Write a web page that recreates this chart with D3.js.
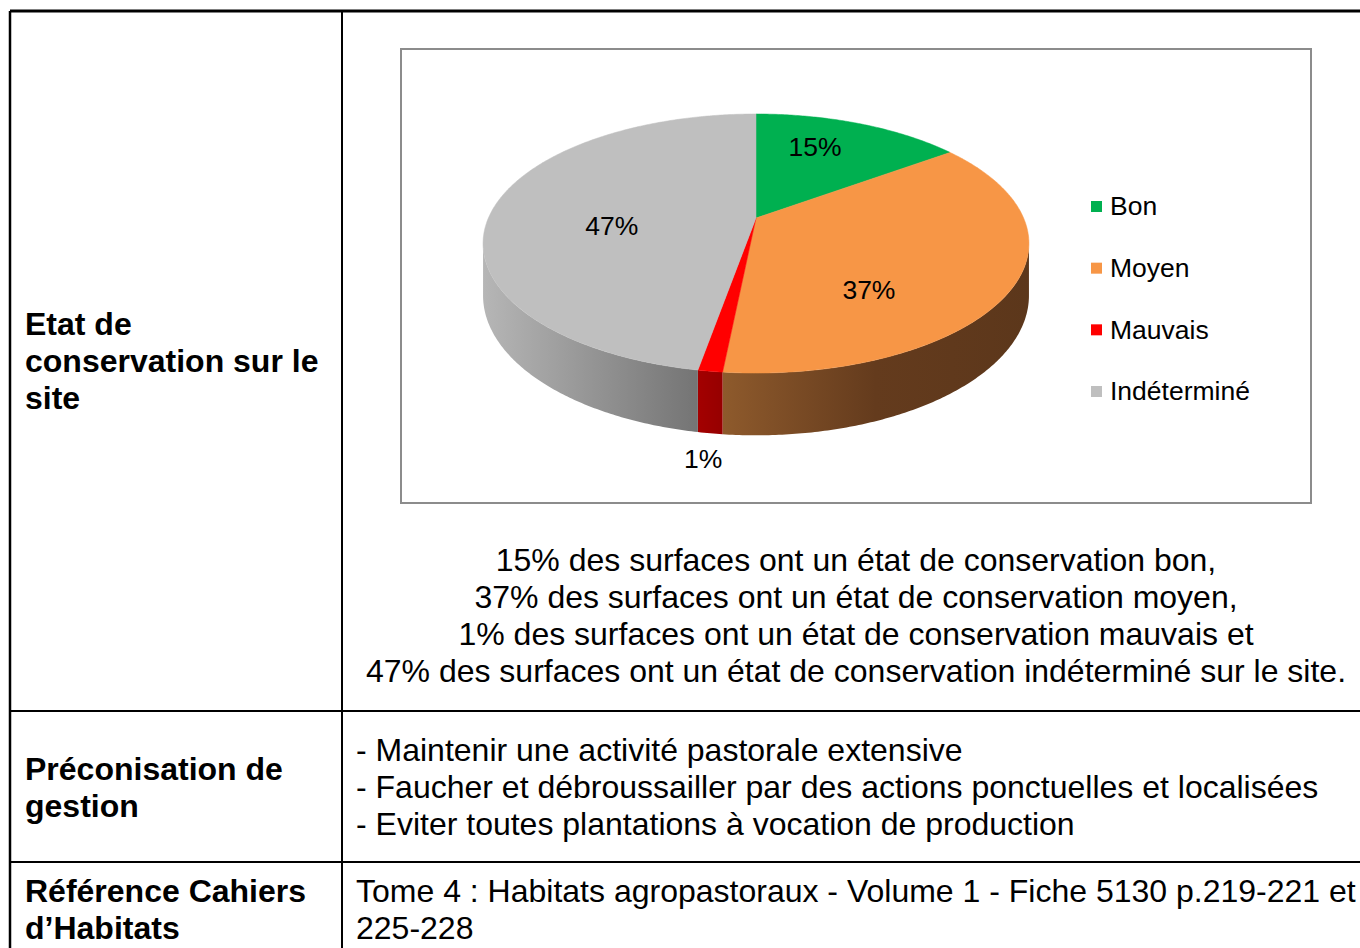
<!DOCTYPE html>
<html>
<head>
<meta charset="utf-8">
<script src="https://cdn.jsdelivr.net/npm/d3@7"></script>
<style>
  body { margin: 0; background: #fff; }
  svg { display: block; }
  text { font-family: "Liberation Sans", Arial, sans-serif; }
</style>
</head>
<body>
<svg id="chart" width="1360" height="948"></svg>
<script>
// chart data
const categories = ["Bon", "Moyen", "Mauvais", "Indéterminé"]
const shares = [15, 36.6, 1.2, 47.2]
const topColors = ["#00b050", "#f79646", "#ff0000", "#bfbfbf"]

// table text
const rowLabels = [
  ["Etat de", "conservation sur le", "site"],
  ["Préconisation de", "gestion"],
  ["Référence Cahiers", "d\u2019Habitats"]
]
const summaryLines = [
  "15% des surfaces ont un état de conservation bon,",
  "37% des surfaces ont un état de conservation moyen,",
  "1% des surfaces ont un état de conservation mauvais et",
  "47% des surfaces ont un état de conservation indéterminé sur le site."
]
const gestionLines = [
  "- Maintenir une activité pastorale extensive",
  "- Faucher et débroussailler par des actions ponctuelles et localisées",
  "- Eviter toutes plantations à vocation de production"
]
const refLines = [
  "Tome 4 : Habitats agropastoraux - Volume 1 - Fiche 5130 p.219-221 et",
  "225-228"
]

const svg = d3.select("#chart")

// ---- table grid ----
const colX = 342, leftX = 10, topY = 11
const rowY = [topY, 711, 862, 960]
const grid = svg.append("g").attr("stroke", "#000")
grid.append("line").attr("x1", leftX).attr("x2", 1370).attr("y1", topY).attr("y2", topY).attr("stroke-width", 3)
grid.append("line").attr("x1", leftX).attr("x2", leftX).attr("y1", topY).attr("y2", 960).attr("stroke-width", 2.5)
grid.append("line").attr("x1", colX).attr("x2", colX).attr("y1", topY).attr("y2", 960).attr("stroke-width", 2)
rowY.slice(1, 3).forEach(y => {
  grid.append("line").attr("x1", leftX).attr("x2", 1370).attr("y1", y).attr("y2", y).attr("stroke-width", 2)
})

// left column labels
const labelCenters = [361, 787.5, 909.5]
rowLabels.forEach((lines, i) => {
  const n = lines.length
  lines.forEach((t, j) => {
    svg.append("text")
      .attr("x", 25)
      .attr("y", labelCenters[i] + (j - (n - 1) / 2) * 37)
      .attr("dy", "0.35em")
      .attr("font-size", 32)
      .attr("font-weight", "bold")
      .attr("fill", "#000")
      .text(t)
  })
})

// summary text under the chart
summaryLines.forEach((t, j) => {
  svg.append("text")
    .attr("x", 856).attr("y", 560 + j * 37).attr("dy", "0.35em")
    .attr("text-anchor", "middle").attr("font-size", 32).text(t)
})
gestionLines.forEach((t, j) => {
  svg.append("text")
    .attr("x", 356).attr("y", 750 + j * 37).attr("dy", "0.35em")
    .attr("font-size", 32).text(t)
})
refLines.forEach((t, j) => {
  svg.append("text")
    .attr("x", 356).attr("y", 891 + j * 37).attr("dy", "0.35em")
    .attr("font-size", 32).text(t)
})

// ---- chart frame ----
svg.append("rect")
  .attr("x", 401).attr("y", 49).attr("width", 910).attr("height", 454)
  .attr("fill", "#fff").attr("stroke", "#8c8c8c").attr("stroke-width", 2)

// ---- 3D pie ----
const cx = 756, cy = 218
const rx = 267.6, ry = 124.5, persp = 0.197, depth = 50

// project a point on the disk (angle a clockwise from back, radius r) to screen
function project(a, r, down) {
  const u = Math.sin(a) * r, v = -Math.cos(a) * r
  const s = 1 / (1 - persp * v)
  return [cx + rx * u * s, cy + ry * v * s + (down ? depth * s : 0)]
}

const pie = d3.pie().sort(null).value(d => d)
const arcs = pie(shares)
const step = 0.01

function arcPoints(a0, a1, down) {
  const pts = []
  const n = Math.max(2, Math.ceil((a1 - a0) / step))
  for (let i = 0; i <= n; i++) pts.push(project(a0 + (a1 - a0) * i / n, 1, down))
  return pts
}
const line = d3.line()

// walls (only the front part is visible)
const defs = svg.append("defs")
const wallStops = [
  [],
  [[0, "#8e5a2c"], [0.5, "#643b1d"], [1, "#5c371b"]],
  [[0, "#a30000"], [1, "#960000"]],
  [[0, "#b6b6b6"], [1, "#747474"]]
]
const visA0 = Math.acos(-persp), visA1 = 2 * Math.PI - Math.acos(-persp)

arcs.forEach((d, i) => {
  const a0 = Math.max(d.startAngle, visA0), a1 = Math.min(d.endAngle, visA1)
  if (a1 <= a0) return
  const top = arcPoints(a0, a1, false)
  const bot = arcPoints(a0, a1, true).reverse()
  const xs = top.concat(bot).map(p => p[0])
  const g = defs.append("linearGradient").attr("id", "wall" + i)
    .attr("gradientUnits", "userSpaceOnUse")
    .attr("x1", d3.min(xs)).attr("x2", d3.max(xs)).attr("y1", 0).attr("y2", 0)
  wallStops[i].forEach(s => g.append("stop").attr("offset", s[0]).attr("stop-color", s[1]))
  svg.append("path")
    .attr("d", line(top.concat(bot)) + "Z")
    .attr("fill", `url(#wall${i})`)
})

// top faces
arcs.forEach((d, i) => {
  const pts = [project(0, 0, false)].concat(arcPoints(d.startAngle, d.endAngle, false))
  svg.append("path")
    .attr("d", line(pts) + "Z")
    .attr("fill", topColors[i])
    .attr("stroke", topColors[i]).attr("stroke-width", 0.5)
})

// data labels
const labelNudge = [[-7, -11], [-35, 32], [0, 0], [14, 14]]
arcs.forEach((d, i) => {
  const mid = (d.startAngle + d.endAngle) / 2
  let p
  if (d.data < 5) {
    p = project(mid, 1, true)
    p = [p[0] - 7, p[1] + 25]
  } else {
    p = project(mid, 0.6, false)
    p = [p[0] + labelNudge[i][0], p[1] + labelNudge[i][1]]
  }
  svg.append("text")
    .attr("x", p[0]).attr("y", p[1]).attr("dy", "0.35em")
    .attr("text-anchor", "middle").attr("font-size", 26.5).attr("fill", "#000")
    .text(Math.round(d.data) + "%")
})

// legend
const legendY = d3.scalePoint().domain(categories).range([206, 391])
const legend = svg.append("g")
categories.forEach((c, i) => {
  legend.append("rect")
    .attr("x", 1091).attr("y", legendY(c) - 5).attr("width", 11).attr("height", 11)
    .attr("fill", topColors[i])
  legend.append("text")
    .attr("x", 1110).attr("y", legendY(c)).attr("dy", "0.35em")
    .attr("font-size", 26.5).attr("fill", "#000").text(c)
})
</script>
</body>
</html>
